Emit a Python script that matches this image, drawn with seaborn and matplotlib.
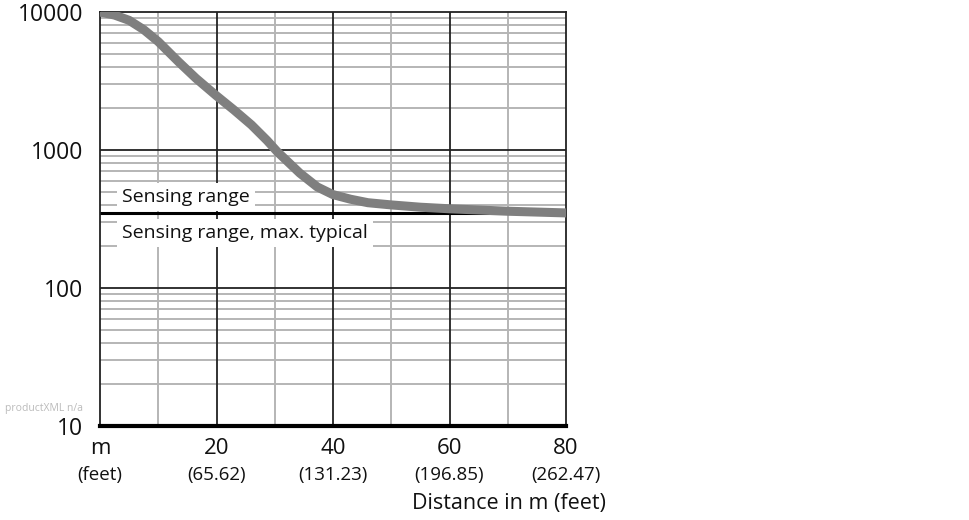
import numpy as np
import pandas as pd
import matplotlib
matplotlib.use("Agg")
import matplotlib.pyplot as plt
import matplotlib.transforms as mtransforms
import seaborn as sns

# Data
distance_m = [0, 2.5, 5, 7.5, 10, 13.5, 16.5, 20, 23, 26, 28.7, 30.4, 34.3,
              37.3, 40, 43, 46, 50, 55, 60, 70, 80]
signal = [10000, 9500, 8700, 7450, 6100, 4350, 3300, 2470, 1950, 1520, 1170,
          975, 680, 540, 475, 440, 415, 400, 385, 375, 360, 350]
threshold = 350

x_ticks = [0, 20, 40, 60, 80]
x_tick_labels = ["m", "20", "40", "60", "80"]
x_feet_labels = ["(feet)", "(65.62)", "(131.23)", "(196.85)", "(262.47)"]
y_ticks = [10, 100, 1000, 10000]
y_tick_labels = ["10", "100", "1000", "10000"]

df = pd.DataFrame({"distance": distance_m, "signal": signal})

sns.set_style("white")
plt.rcParams["font.family"] = ["Open Sans", "DejaVu Sans"]

fig = plt.figure(figsize=(9.7, 5.2), dpi=100)
ax = fig.add_axes([100 / 970, 1 - 426 / 520, 466 / 970, 414 / 520])

ax.set_yscale("log")
ax.set_xlim(0, 80)
ax.set_ylim(10, 10000)

# grid
for xv in [10, 30, 50, 70]:
    ax.axvline(xv, color="#b5b5b5", lw=1.4, zorder=1)
for xv in [20, 40, 60]:
    ax.axvline(xv, color="#222222", lw=1.3, zorder=1.5)
for dec in [10, 100, 1000]:
    for m in range(2, 10):
        ax.axhline(dec * m, color="#b5b5b5", lw=1.4, zorder=1)
for yv in [100, 1000]:
    ax.axhline(yv, color="#222222", lw=1.3, zorder=1.5)

# threshold line
ax.axhline(threshold, color="black", lw=2.2, zorder=2)

sns.lineplot(data=df, x="distance", y="signal", ax=ax, color="#7f7f7f",
             lw=6.5, solid_capstyle="round", solid_joinstyle="round", zorder=3)

ax.text(3.8, 455, "Sensing range", fontsize=14, color="#111111",
        va="center", ha="left", zorder=4,
        bbox=dict(boxstyle="square,pad=0.25", fc="white", ec="none"))
ax.text(3.8, 250, "Sensing range, max. typical", fontsize=14, color="#111111",
        va="center", ha="left", zorder=4,
        bbox=dict(boxstyle="square,pad=0.25", fc="white", ec="none"))

# spines
for s in ["left", "top", "right"]:
    ax.spines[s].set_color("#222222")
    ax.spines[s].set_linewidth(1.3)
ax.spines["bottom"].set_color("black")
ax.spines["bottom"].set_linewidth(3)

ax.set_xticks(x_ticks)
ax.set_xticklabels(x_tick_labels, fontsize=16, color="#111111")
ax.set_yticks(y_ticks)
ax.set_yticklabels(y_tick_labels, fontsize=16.5, color="#111111")
ax.yaxis.set_minor_locator(matplotlib.ticker.NullLocator())
ax.tick_params(axis="both", length=0)
ax.tick_params(axis="x", pad=9)
ax.tick_params(axis="y", pad=12)
ax.set_xlabel("")
ax.set_ylabel("")

trans = mtransforms.blended_transform_factory(ax.transData, ax.transAxes)
for xv, lab in zip(x_ticks, x_feet_labels):
    ax.text(xv, -0.118, lab, transform=trans, ha="center", va="center",
            fontsize=13.5, color="#111111")

fig.text(606 / 970, 1 - 503 / 520, "Distance in m (feet)", ha="right",
         va="center", fontsize=15.5, color="#111111")
fig.text(5 / 970, 1 - 408 / 520, "productXML n/a", ha="left", va="center",
         fontsize=7.5, color="#bbbbbb")

fig.savefig("out.png", dpi=100)
